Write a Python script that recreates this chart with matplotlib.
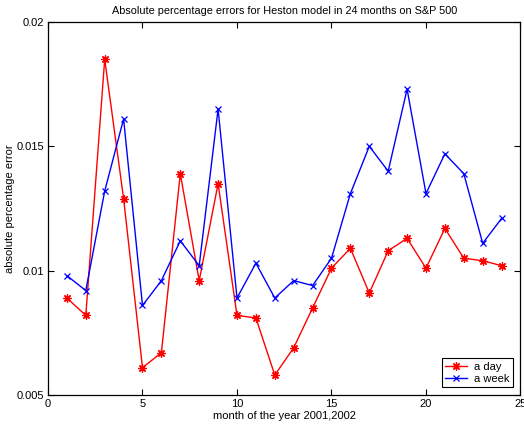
import matplotlib

matplotlib.use("Agg")
import matplotlib.pyplot as plt

plt.rcParams["font.family"] = ["Liberation Sans", "DejaVu Sans"]
plt.rcParams["font.size"] = 8

# Monthly absolute percentage errors, Heston model, S&P 500 (2001-2002)
months = list(range(1, 25))
err_day = [
    0.0089, 0.0082, 0.0185, 0.0129, 0.0061, 0.0067, 0.0139, 0.0096,
    0.0135, 0.0082, 0.0081, 0.0058, 0.0069, 0.0085, 0.0101, 0.0109,
    0.0091, 0.0108, 0.0113, 0.0101, 0.0117, 0.0105, 0.0104, 0.0102,
]
err_week = [
    0.0098, 0.0092, 0.0132, 0.0161, 0.0086, 0.0096, 0.0112, 0.0102,
    0.0165, 0.0089, 0.0103, 0.0089, 0.0096, 0.0094, 0.0105, 0.0131,
    0.0150, 0.0140, 0.0173, 0.0131, 0.0147, 0.0139, 0.0111, 0.0121,
]
x_ticks = [0, 5, 10, 15, 20, 25]
y_ticks = [0.005, 0.01, 0.015, 0.02]
y_tick_labels = ["0.005", "0.01", "0.015", "0.02"]

fig = plt.figure(figsize=(5.24, 4.28), dpi=100)
ax = fig.add_axes([0.0916, 0.0771, 0.9017, 0.8715])

# (8, 2, 0) is an eight-armed asterisk, like the classic '*' plot marker
ax.plot(months, err_day, color="red", marker=(8, 2, 0), markersize=6,
        linewidth=1.0, markeredgewidth=0.9, label="a day")
ax.plot(months, err_week, color="blue", marker="x", markersize=4.5,
        linewidth=1.0, markeredgewidth=0.9, label="a week")

ax.set_xlim(0, 25)
ax.set_ylim(0.005, 0.02)
ax.set_xticks(x_ticks)
ax.set_yticks(y_ticks)
ax.set_yticklabels(y_tick_labels)
ax.tick_params(direction="in", top=True, right=True, length=4, width=0.8,
               labelsize=8, pad=3)
for spine in ax.spines.values():
    spine.set_linewidth(0.9)

ax.set_title("Absolute percentage errors for Heston model in 24 months on S&P 500",
             fontsize=7.8, pad=6)
ax.set_xlabel("month of the year 2001,2002", fontsize=8, labelpad=1)
ax.set_ylabel("absolute percentage error", fontsize=8, labelpad=1)

leg = ax.legend(loc="lower right", fontsize=8, fancybox=False, framealpha=1,
                edgecolor="black", borderaxespad=0.7, handlelength=2.0,
                borderpad=0.3, labelspacing=0.2, handletextpad=0.6)
leg.get_frame().set_linewidth(0.8)

fig.savefig("out.png", dpi=100)
